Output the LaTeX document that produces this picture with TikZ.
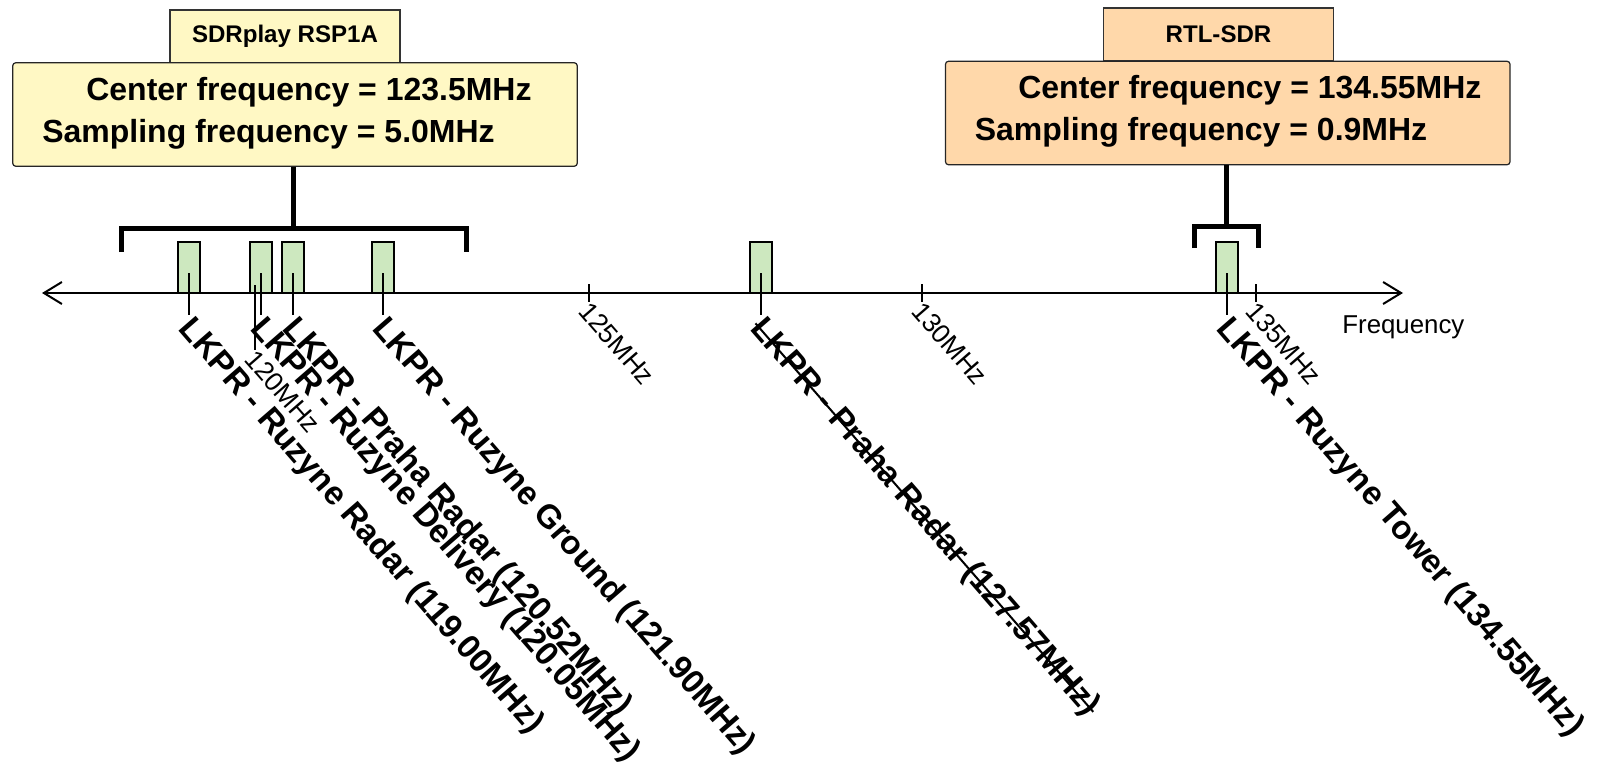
\documentclass[tikz,border=0pt]{standalone}
\usepackage{fontspec}
\setmainfont{Liberation Sans}
\usepackage{xcolor}
\usetikzlibrary{arrows.meta, positioning}

\definecolor{sdryellow}{HTML}{FFF8C4}
\definecolor{rtlpeach}{HTML}{FFD8AA}
\definecolor{chgreen}{HTML}{CDE8BF}

\begin{document}
\begin{tikzpicture}[x=0.2mm, y=-0.2mm,
    titlebox/.style={draw=black!80, line width=0.6pt, inner sep=0pt, minimum width=46mm, minimum height=10.6mm, font=\fontsize{13.7}{16}\selectfont\bfseries},
    infobox/.style={draw=black!85, line width=0.7pt, rounded corners=0.6mm, minimum width=112.9mm, minimum height=20.7mm, inner sep=0pt},
    infotext/.style={anchor=base west, inner sep=0pt, font=\fontsize{18.2}{22}\selectfont\bfseries},
    chanbox/.style={draw, line width=0.4mm, fill=chgreen, minimum width=4.4mm, minimum height=10.2mm, inner sep=0pt},
    chanlbl/.style={anchor=north west, inner sep=0pt, rotate=-49, yshift=1.3mm, xshift=0.6mm, font=\fontsize{18.8}{23}\selectfont\bfseries},
    ticklbl/.style={anchor=north west, inner sep=0pt, rotate=-49, yshift=0.7mm, font=\fontsize{15.1}{18}\selectfont},
    marker/.style={line width=0.4mm},
    bracket/.style={line width=1mm, line join=miter},
    axis/.style={line width=0.4mm, {Straight Barb[length=3.6mm, width=4.4mm]}-{Straight Barb[length=3.6mm, width=4.4mm]}},
]
    \useasboundingbox (0,0) rectangle (1600,777);

    % --- SDRplay RSP1A ---
    \node[titlebox, fill=sdryellow] (sdrtitle) at (285,36.5) {SDRplay RSP1A};
    \node[infobox, fill=sdryellow] (sdrbox) at (295,114.5) {};
    \node[infotext] (sdrcf) at (86,100) {Center frequency = 123.5MHz};
    \node[infotext] (sdrsf) at (42,142) {Sampling frequency = 5.0MHz};

    % --- RTL-SDR ---
    \node[titlebox, fill=rtlpeach] (rtltitle) at (1218.5,34.5) {RTL-SDR};
    \node[infobox, fill=rtlpeach] (rtlbox) at (1227.75,113) {};
    \node[infotext] (rtlcf) at (1018,98) {Center frequency = 134.55MHz};
    \node[infotext] (rtlsf) at (974.5,140) {Sampling frequency = 0.9MHz};

    % --- bandwidth brackets ---
    \coordinate (sdrmid) at (293,228);
    \draw[bracket] (121,252) -- (121,228) -- (466,228) -- (466,252);
    \draw[bracket] (sdrbox.south -| sdrmid) -- (sdrmid);

    \coordinate (rtlmid) at (1226,226);
    \draw[bracket] (1194,248) -- (1194,226) -- (1258,226) -- (1258,248);
    \draw[bracket] (rtlbox.south -| rtlmid) -- (rtlmid);

    % --- channels (green bands) ---
    \node[chanbox] (ch1box) at (189,267.5) {};
    \node[chanbox] (ch2box) at (261,267.5) {};
    \node[chanbox] (ch3box) at (293,267.5) {};
    \node[chanbox] (ch4box) at (382.5,267.5) {};
    \node[chanbox] (ch5box) at (760.5,267.5) {};
    \node[chanbox] (ch6box) at (1227,267.5) {};

    % --- frequency axis ---
    \coordinate (axL) at (42,293);
    \coordinate (axR) at (1403,293);
    \draw[axis] (axL) -- (axR);
    \node[anchor=base west, inner sep=0pt, font=\fontsize{14.7}{17}\selectfont] (freqlbl) at (1342,333) {Frequency};

    % ticks
    \coordinate (t120top) at (255,285);
    \coordinate (t125top) at (589,284);
    \coordinate (t130top) at (922,284);
    \coordinate (t135top) at (1256,284);
    \node[ticklbl] (t120) at (255,350) {120MHz};
    \draw[marker] (t120top) -- (t120top |- 0,350);
    \node[ticklbl] (t125) at (589,302) {125MHz};
    \draw[marker] (t125top) -- (t125top |- 0,302);
    \node[ticklbl] (t130) at (922,302) {130MHz};
    \draw[marker] (t130top) -- (t130top |- 0,302);
    \node[ticklbl] (t135) at (1256,302) {135MHz};
    \draw[marker] (t135top) -- (t135top |- 0,302);

    % --- channel labels ---
    \node[chanlbl] (ch1lbl) at (189,315) {LKPR - Ruzyne Radar (119.00MHz)};
    \draw[marker] (ch1box.center) ++(0,5.5) -- (189,315);
    \node[chanlbl] (ch2lbl) at (261,315) {LKPR - Ruzyne Delivery (120.05MHz)};
    \draw[marker] (ch2box.center) ++(0,5.5) -- (261,315);
    \node[chanlbl] (ch3lbl) at (293,315) {LKPR - Praha Radar (120.52MHz)};
    \draw[marker] (ch3box.center) ++(0,5.5) -- (293,315);
    \node[chanlbl] (ch4lbl) at (382.5,315) {LKPR - Ruzyne Ground (121.90MHz)};
    \draw[marker] (ch4box.center) ++(0,5.5) -- (382.5,315);
    \node[chanlbl] (ch5lbl) at (760.5,315) {LKPR - Praha Radar (127.57MHz)};
    \draw[marker] (ch5box.center) ++(0,5.5) -- (760.5,315);
    \draw[marker] (ch5lbl.west) -- (ch5lbl.east);
    \node[chanlbl] (ch6lbl) at (1227,315) {LKPR - Ruzyne Tower (134.55MHz)};
    \draw[marker] (ch6box.center) ++(0,5.5) -- (1227,315);

\end{tikzpicture}
\end{document}
